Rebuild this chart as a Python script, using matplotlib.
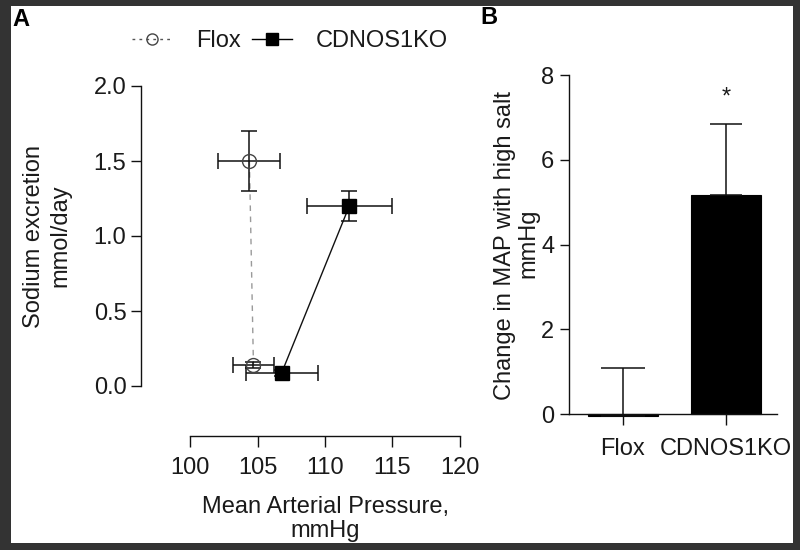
import matplotlib
matplotlib.use("Agg")
import matplotlib.pyplot as plt
from matplotlib.lines import Line2D
from matplotlib.patches import Rectangle

plt.rcParams['font.family'] = ['Liberation Sans', 'DejaVu Sans']

# ---- Panel A data ----
flox_map = [104.4, 104.7]
flox_map_err = [2.3, 1.5]
flox_na = [1.50, 0.14]
flox_na_err = [0.20, 0.02]
ko_map = [111.8, 106.8]
ko_map_err = [3.15, 2.65]
ko_na = [1.20, 0.09]
ko_na_err = [0.10, 0.02]
a_xticks = [100, 105, 110, 115, 120]
a_yticks = [0.0, 0.5, 1.0, 1.5, 2.0]

# ---- Panel B data ----
groups = ['Flox', 'CDNOS1KO']
change_map = [-0.05, 5.17]
change_err = [1.15, 1.68]
b_yticks = [0, 2, 4, 6, 8]

W, H = 800, 550
fig = plt.figure(figsize=(8, 5.5), dpi=100)
fig.patch.set_facecolor('white')

def fx(px):
    return px / W

def fy(py):
    return 1 - py / H

txt = '#1a1a1a'
FS = 17

# ---------- Panel A ----------
axA = fig.add_axes([fx(141), fy(436), fx(460) - fx(141), fy(86) - fy(436)])
axA.set_xlim(100 - (190 - 141) / 13.5, 120)
axA.set_ylim(-50 / 150, 2.0)
for s in ['top', 'right']:
    axA.spines[s].set_visible(False)
axA.spines['left'].set_bounds(0, 2)
axA.spines['bottom'].set_bounds(100, 120)
for s in ['left', 'bottom']:
    axA.spines[s].set_linewidth(1.0)
    axA.spines[s].set_color('#111111')
axA.patch.set_alpha(0)

axA.plot(flox_map, flox_na, linestyle=(0, (4, 4)), color='#9a9a9a', lw=1.0, zorder=2)
axA.errorbar(flox_map, flox_na, xerr=flox_map_err, yerr=flox_na_err, fmt='none',
             ecolor='#111111', elinewidth=1.1, capsize=5.5, capthick=1.1, zorder=3)
axA.plot(flox_map, flox_na, linestyle='none', marker='o', markersize=10,
         markerfacecolor='none', markeredgecolor='#444444', markeredgewidth=1.0, zorder=4)

axA.plot(ko_map, ko_na, linestyle='-', color='#111111', lw=1.0, zorder=2)
axA.errorbar(ko_map, ko_na, xerr=ko_map_err, yerr=ko_na_err, fmt='none',
             ecolor='#111111', elinewidth=1.1, capsize=5.5, capthick=1.1, zorder=3)
axA.plot(ko_map, ko_na, linestyle='none', marker='s', markersize=10,
         color='black', zorder=4)

axA.set_xticks(a_xticks)
axA.set_xticklabels([str(v) for v in a_xticks])
axA.set_yticks(a_yticks)
axA.set_yticklabels([f'{v:.1f}' for v in a_yticks])
axA.tick_params(axis='x', length=8, width=1.0, pad=7, labelsize=FS, colors='#111111', labelcolor=txt)
axA.tick_params(axis='y', length=7.5, width=1.0, pad=3, labelsize=FS, colors='#111111', labelcolor=txt)

fig.text(fx(325), fy(519), 'Mean Arterial Pressure,\nmmHg', ha='center', va='center',
         fontsize=FS, color=txt, linespacing=1.15)
fig.text(fx(47), fy(236), 'Sodium excretion\nmmol/day', ha='center', va='center',
         rotation=90, fontsize=FS, color=txt, linespacing=1.25)

handles = [
    Line2D([], [], linestyle=(0, (2, 3)), color='#555555', lw=1.0, marker='o', markersize=8,
           markerfacecolor='none', markeredgecolor='#444444'),
    Line2D([], [], linestyle='-', color='black', lw=1.0, marker='s', markersize=9),
]
fig.legend(handles, ['Flox', 'CDNOS1KO'], loc='center', bbox_to_anchor=(fx(290), fy(41)),
           ncol=2, frameon=False, fontsize=FS, handlelength=1.7, handletextpad=1.0,
           columnspacing=0.5, labelcolor=txt)

# ---------- Panel B ----------
axB = fig.add_axes([fx(569), fy(414.3), fx(777) - fx(569), fy(75) - fy(414.3)])
xpos = [0, 1]
axB.set_xlim(-(622.7 - 569) / 103.3, 1 + (777 - 726) / 103.3)
axB.set_ylim(0, 8)
for s in ['top', 'right']:
    axB.spines[s].set_visible(False)
for s in ['left', 'bottom']:
    axB.spines[s].set_linewidth(1.0)
    axB.spines[s].set_color('#111111')
axB.patch.set_alpha(0)

axB.bar(xpos, change_map, width=0.68, color='black', edgecolor='black', lw=0.8,
        clip_on=False, zorder=2)
capsizes = [22 * 72 / 100, 16 * 72 / 100]
for i in range(len(xpos)):
    axB.errorbar([xpos[i]], [change_map[i]], yerr=[[0], [change_err[i]]], fmt='none',
                 ecolor='#111111', elinewidth=1.1, capsize=capsizes[i],
                 capthick=1.1, zorder=3, clip_on=False)
axB.text(xpos[1], change_map[1] + change_err[1] + 0.62, '*', ha='center', va='center',
         fontsize=FS, color=txt)

axB.set_xticks(xpos)
axB.set_xticklabels(groups)
axB.set_yticks(b_yticks)
axB.set_yticklabels([str(v) for v in b_yticks])
axB.tick_params(axis='x', length=8, width=1.0, pad=9, labelsize=FS, colors='#111111', labelcolor=txt)
axB.tick_params(axis='y', length=6.5, width=1.0, pad=4, labelsize=FS, colors='#111111', labelcolor=txt)

fig.text(fx(505), fy(246), 'Change in MAP with high salt', ha='center', va='center',
         rotation=90, fontsize=FS, color=txt)
fig.text(fx(528), fy(243), 'mmHg', ha='center', va='center',
         rotation=90, fontsize=FS, color=txt)

# panel letters
fig.text(fx(21), fy(19), 'A', ha='center', va='center', fontsize=17, fontweight='bold', color='black')
fig.text(fx(489), fy(17), 'B', ha='center', va='center', fontsize=17, fontweight='bold', color='black')

# dark frame around the figure
bc = '#333333'
for (x0, y0, w, h) in [(0, 0, 11, H), (0, 0, W, 6), (793, 0, 7, H), (0, 543, W, 7)]:
    fig.patches.append(Rectangle((fx(x0), fy(y0 + h)), w / W, h / H, transform=fig.transFigure,
                                 facecolor=bc, edgecolor='none', zorder=10))

fig.savefig('out.png', dpi=100)
